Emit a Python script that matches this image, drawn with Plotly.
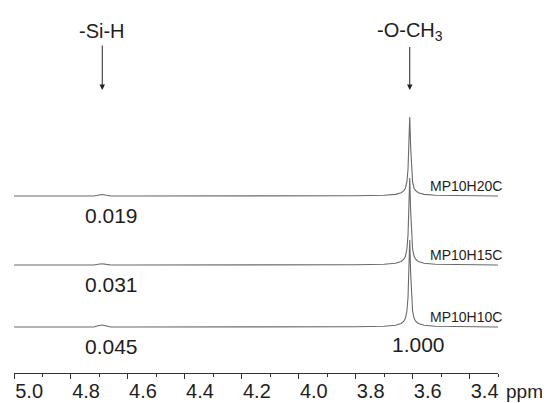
import plotly.graph_objects as go

# ---- data ----
ppm = [5.00, 4.80, 4.72, 4.705, 4.69, 4.675, 4.66, 4.60, 4.40, 4.20, 4.00, 3.80,
       3.70, 3.66, 3.64, 3.63, 3.625, 3.62, 3.616, 3.613, 3.610, 3.607, 3.604,
       3.600, 3.595, 3.59, 3.58, 3.56, 3.52, 3.40, 3.30]

int_h10 = [0, 0, 0, 1.2, 2.0, 1.0, 0, 0, 0, 0, 0, 0.3,
           0.8, 1.8, 3.5, 6, 9, 16, 30, 55, 87, 55, 30,
           16, 9, 6, 3.5, 1.8, 0.8, 0.2, 0]
int_h15 = [0, 0, 0, 0.8, 1.3, 0.6, 0, 0, 0, 0, 0, 0.3,
           0.8, 1.8, 3.5, 6, 9, 16, 30, 55, 87, 55, 30,
           16, 9, 6, 3.5, 1.8, 0.8, 0.2, 0]
int_h20 = [0, 0, 0, 0.8, 1.5, 0.7, 0, 0, 0, 0, 0, 0.3,
           0.8, 1.6, 3.2, 5.5, 8, 14, 27, 50, 79, 50, 27,
           14, 8, 5.5, 3.2, 1.6, 0.8, 0.2, 0]

samples = ["MP10H10C", "MP10H15C", "MP10H20C"]
offsets = [0, 62, 131]
spectra = [int_h10, int_h15, int_h20]
sih_ratio = ["0.045", "0.031", "0.019"]
och3_ratio = "1.000"

tick_vals = [5.0, 4.8, 4.6, 4.4, 4.2, 4.0, 3.8, 3.6, 3.4]
tick_text = ["5.0", "4.8", "4.6", "4.4", "4.2", "4.0", "3.8", "3.6", "3.4"]

FONT = "Liberation Sans, Arial, sans-serif"
TXT = "#1e1e1e"

fig = go.Figure()
for name, off, ys in zip(samples, offsets, spectra):
    fig.add_trace(go.Scatter(x=ppm, y=[v + off for v in ys], mode="lines",
                             line=dict(color="#6a6a6a", width=1.1),
                             name=name, showlegend=False, hoverinfo="skip"))

ann = []
# sample names
for name, off in zip(samples, offsets):
    ann.append(dict(x=3.545, y=off + 10, xref="x", yref="y", text=name,
                    showarrow=False, xanchor="left", yanchor="middle",
                    font=dict(size=14, color=TXT, family=FONT)))
# Si-H ratios
for r, off in zip(sih_ratio, offsets):
    ann.append(dict(x=4.657, y=off - 19, xref="x", yref="y", text=r,
                    showarrow=False, xanchor="center", yanchor="middle",
                    font=dict(size=21, color=TXT, family=FONT)))
ann.append(dict(x=3.58, y=-17, xref="x", yref="y", text=och3_ratio,
                showarrow=False, xanchor="center", yanchor="middle",
                font=dict(size=21, color=TXT, family=FONT)))
# group labels with arrows
for label, xv in [("-Si-H", 4.69), ("-O-CH<sub>3</sub>", 3.61)]:
    ann.append(dict(x=xv, y=237, ax=xv, ay=296, xref="x", yref="y",
                    axref="x", ayref="y", text=label, showarrow=True,
                    arrowhead=2, arrowsize=1.1, arrowwidth=1,
                    arrowcolor="#222", standoff=0, startstandoff=2,
                    font=dict(size=20, color=TXT, family=FONT)))
# axis unit
ann.append(dict(x=1.0, y=0, xref="paper", yref="paper", text="ppm",
                showarrow=False, xanchor="left", yanchor="top",
                xshift=6, yshift=-6,
                font=dict(size=19, color=TXT, family=FONT)))

fig.update_layout(
    width=542, height=395,
    margin=dict(l=6, r=52, t=12, b=30),
    paper_bgcolor="white", plot_bgcolor="white",
    annotations=ann,
    xaxis=dict(range=[5.0, 3.3], showgrid=False, zeroline=False,
               showline=True, linecolor="#333", linewidth=1.2,
               ticks="outside", ticklen=5, tickwidth=1.2, tickcolor="#333",
               tickvals=tick_vals, ticktext=tick_text,
               ticklabelposition="outside right", ticklabelstandoff=0,
               tickfont=dict(size=20, color=TXT, family=FONT),
               minor=dict(dtick=0.1, tick0=5.0, ticks="outside", ticklen=3,
                          tickwidth=1.2, tickcolor="#333"),
               fixedrange=True, automargin=False),
    yaxis=dict(range=[-46, 307], visible=False, fixedrange=True),
)

fig.write_html("out.html")
